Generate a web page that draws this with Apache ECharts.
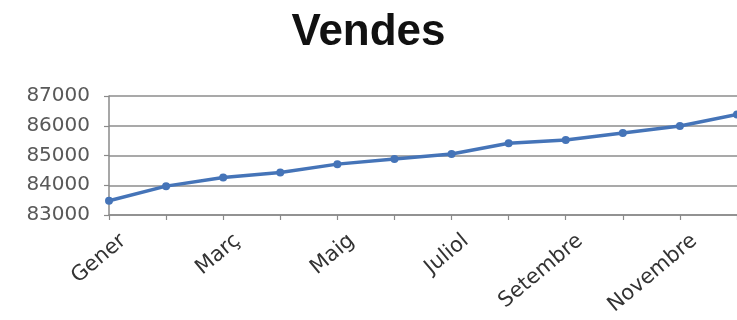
<!DOCTYPE html>
<html>
<head>
<meta charset="utf-8">
<title>Vendes</title>
<script src="https://cdn.jsdelivr.net/npm/echarts@6/dist/echarts.min.js"></script>
<style>
  html, body { margin: 0; padding: 0; background: #ffffff; }
  #chart { width: 737px; height: 320px; }
</style>
</head>
<body>
<div id="chart"></div>
<script>
// Monthly sales (Catalan month names)
const mesos = ['Gener', 'Febrer', 'Març', 'Abril', 'Maig', 'Juny', 'Juliol', 'Agost', 'Setembre', 'Octubre', 'Novembre', 'Desembre'];
const vendes = [83480, 83970, 84260, 84430, 84710, 84880, 85050, 85410, 85520, 85760, 85990, 86380];
const yMin = 83000;
const yMax = 87000;
const yStep = 1000;

const chart = echarts.init(document.getElementById('chart'), null, { renderer: 'canvas' });

chart.setOption({
  backgroundColor: '#ffffff',
  animation: false,
  title: {
    text: 'Vendes',
    left: 'center',
    top: 6,
    textStyle: {
      fontFamily: 'Liberation Sans, Arial, sans-serif',
      fontWeight: 'bold',
      fontSize: 44,
      color: '#111111'
    }
  },
  grid: { left: 109, right: 0, top: 96, bottom: 105, outerBoundsMode: 'none' },
  xAxis: {
    type: 'category',
    data: mesos,
    boundaryGap: false,
    axisLine: { show: true, lineStyle: { color: '#8a8a8a', width: 1.5 } },
    axisTick: { show: true, interval: 0, length: 5, lineStyle: { color: '#8a8a8a', width: 1.2 } },
    axisLabel: {
      interval: 1,
      rotate: 40,
      margin: 6,
      verticalAlign: 'top',
      padding: [12, 0, 0, 0],
      fontFamily: 'DejaVu Sans, sans-serif',
      fontSize: 21,
      color: '#333333'
    },
    splitLine: { show: false }
  },
  yAxis: {
    type: 'value',
    min: yMin,
    max: yMax,
    interval: yStep,
    axisLine: { show: true, lineStyle: { color: '#8a8a8a', width: 1.5 } },
    axisTick: { show: true, length: 5, lineStyle: { color: '#8a8a8a', width: 1.2 } },
    axisLabel: {
      margin: 19,
      formatter: (v) => String(v),
      fontFamily: 'DejaVu Sans, sans-serif',
      fontSize: 20,
      color: '#595959'
    },
    splitLine: { show: true, lineStyle: { color: '#8c8c8c', width: 1.5 } }
  },
  series: [{
    name: 'Vendes',
    type: 'line',
    data: vendes,
    symbol: 'circle',
    symbolSize: 8,
    clip: false,
    lineStyle: { color: '#4574b8', width: 3.5 },
    itemStyle: { color: '#4574b8' }
  }]
});
</script>
</body>
</html>
